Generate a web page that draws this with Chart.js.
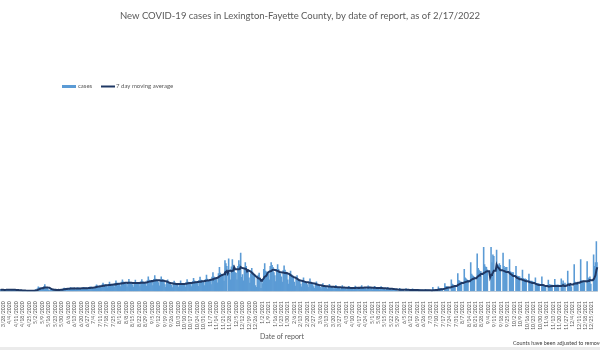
<!DOCTYPE html>
<html>
<head>
<meta charset="utf-8">
<script src="https://cdn.jsdelivr.net/npm/chart.js@4.4.1/dist/chart.umd.min.js"></script>
<style>
    body { margin: 0; background: #fff; overflow: hidden; }
    #wrap { position: relative; width: 600px; height: 350px; }
    #band { position: absolute; left: 0; top: 347px; width: 600px; height: 3px; background: #ebebeb; }
</style>
</head>
<body>
<div id="wrap">
    <canvas id="casesChart" width="600" height="347"></canvas>
    <div id="band"></div>
</div>

<script type="text/javascript">
    const chartTitle = 'New COVID-19 cases in Lexington-Fayette County, by date of report, as of 2/17/2022';
    const axisTitle = 'Date of report';
    const footNote = 'Counts have been adjusted to remove duplicates';
    const seriesNames = ['cases', '7 day moving average'];

    // first day shown, then one value per day (weeks run Sat..Fri)
    const firstDay = new Date(2020, 2, 25);
    const dailyCases = [
        14, 18, 16,
        12, 9, 14, 20, 17, 15, 18,
        13, 8, 15, 19, 16, 18, 14,
        9, 6, 11, 12, 10, 11, 9,
        4, 3, 5, 7, 6, 5, 6,
        5, 2, 6, 8, 7, 6, 7,
        18, 12, 28, 45, 38, 33, 36,
        30, 22, 48, 70, 40, 36, 34,
        14, 8, 16, 20, 15, 17, 14,
        12, 7, 14, 19, 17, 16, 18,
        18, 11, 26, 32, 28, 27, 30,
        24, 16, 33, 38, 31, 34, 32,
        26, 15, 30, 36, 35, 31, 33,
        27, 18, 34, 40, 36, 33, 35,
        31, 20, 38, 47, 44, 42, 41,
        36, 28, 55, 68, 57, 52, 54,
        50, 33, 66, 85, 72, 60, 68,
        55, 38, 72, 95, 76, 71, 69,
        64, 42, 84, 110, 88, 79, 80,
        70, 48, 96, 120, 98, 92, 92,
        74, 45, 94, 125, 95, 90, 93,
        68, 44, 92, 118, 92, 88, 93,
        76, 48, 98, 122, 100, 93, 93,
        82, 55, 112, 150, 118, 110, 108,
        94, 60, 125, 165, 128, 118, 115,
        90, 56, 118, 150, 125, 120, 111,
        70, 42, 92, 120, 95, 88, 88,
        62, 38, 80, 105, 85, 78, 77,
        60, 40, 82, 108, 82, 76, 77,
        72, 44, 90, 122, 95, 88, 84,
        78, 50, 102, 135, 108, 98, 94,
        88, 52, 115, 148, 118, 110, 104,
        92, 60, 124, 170, 126, 118, 115,
        112, 70, 148, 195, 150, 140, 130,
        140, 88, 185, 250, 190, 175, 162,
        168, 105, 320, 290, 260, 0, 340,
        190, 120, 255, 330, 270, 250, 195,
        190, 120, 260, 320, 280, 400, 145,
        175, 110, 240, 300, 260, 230, 225,
        140, 85, 185, 240, 200, 175, 165,
        60, 40, 140, 170, 190, 140, 30,
        110, 80, 230, 290, 210, 200, 200,
        180, 120, 260, 300, 270, 250, 195,
        165, 100, 230, 280, 230, 210, 185,
        150, 95, 215, 265, 220, 200, 185,
        120, 75, 170, 210, 175, 160, 140,
        95, 55, 130, 165, 130, 120, 110,
        75, 45, 110, 140, 105, 100, 90,
        70, 40, 95, 130, 92, 88, 80,
        50, 30, 75, 98, 72, 68, 62,
        42, 24, 58, 80, 56, 55, 49,
        38, 22, 52, 72, 52, 48, 45,
        34, 20, 48, 62, 46, 44, 40,
        30, 18, 42, 58, 42, 40, 36,
        28, 16, 40, 52, 38, 36, 35,
        27, 17, 38, 55, 40, 35, 33,
        30, 18, 44, 58, 42, 38, 36,
        32, 18, 42, 56, 44, 39, 35,
        28, 16, 40, 52, 38, 37, 34,
        26, 15, 36, 48, 35, 33, 31,
        20, 12, 30, 40, 28, 27, 25,
        16, 9, 22, 31, 22, 21, 19,
        0, 0, 30, 22, 19, 21, 20,
        0, 0, 28, 20, 16, 17, 17,
        0, 0, 25, 16, 15, 14, 14,
        0, 0, 20, 14, 12, 12, 12,
        0, 0, 21, 13, 12, 13, 11,
        0, 0, 0, 40, 15, 14, 15,
        0, 0, 45, 30, 27, 26, 26,
        0, 0, 80, 52, 48, 45, 41,
        0, 0, 120, 75, 68, 62, 60,
        0, 0, 185, 115, 105, 95, 95,
        0, 0, 230, 140, 130, 120, 115,
        0, 0, 300, 180, 165, 155, 145,
        0, 0, 390, 240, 220, 205, 205,
        0, 0, 460, 280, 255, 250, 225,
        0, 0, 0, 460, 300, 380, 365,
        0, 0, 430, 280, 270, 290, 270,
        0, 0, 400, 260, 240, 250, 250,
        0, 0, 330, 205, 195, 195, 195,
        0, 0, 260, 160, 150, 155, 150,
        0, 0, 220, 135, 125, 130, 125,
        0, 0, 180, 110, 100, 105, 100,
        0, 0, 140, 82, 76, 80, 77,
        0, 0, 150, 70, 60, 52, 53,
        0, 0, 118, 72, 66, 64, 65,
        0, 0, 125, 68, 62, 66, 64,
        0, 0, 130, 80, 110, 0, 86,
        0, 0, 210, 85, 80, 70, 45,
        0, 0, 280, 95, 85, 90, 80,
        0, 0, 330, 110, 100, 105, 90,
        0, 0, 310, 140, 130, 150, 75,
        0, 0, 380, 260, 300, 520, 300
    ];
    const yMax = 2000;

    const barColor = '#5B9BD5';
    const lineColor = '#1F3864';
    const textColor = '#595959';

    function dayLabels(start, count) {
        var result = [];
        var d = new Date(start);
        for (let i = 0; i < count; i++) {
            result.push((d.getMonth() + 1) + '/' + d.getDate() + '/' + d.getFullYear());
            d.setDate(d.getDate() + 1);
        }
        return result;
    }

    // trailing 7 day average of the daily counts
    function movingAverage(values, days) {
        var result = [];
        for (let i = 0; i < values.length; i++) {
            let from = Math.max(0, i - days + 1);
            let sum = 0;
            for (let j = from; j <= i; j++) sum += values[j];
            result.push(sum / (i - from + 1));
        }
        return result;
    }

    const labels = dayLabels(firstDay, dailyCases.length);
    const avgCases = movingAverage(dailyCases, 7);

    // title, legend, axis title and note, placed like the sheet layout
    const sheetText = {
        id: 'sheetText',
        afterDraw(chart) {
            const ctx = chart.ctx;
            ctx.save();
            ctx.textBaseline = 'middle';

            ctx.fillStyle = textColor;
            ctx.textAlign = 'center';
            ctx.font = '9.5px Lato';
            ctx.fillText(chartTitle, 300, 16);

            ctx.fillStyle = barColor;
            ctx.fillRect(62, 85, 14, 3);
            ctx.strokeStyle = lineColor;
            ctx.lineWidth = 2;
            ctx.beginPath();
            ctx.moveTo(101, 86.5);
            ctx.lineTo(115, 86.5);
            ctx.stroke();
            ctx.fillStyle = textColor;
            ctx.textAlign = 'left';
            ctx.font = '6px Lato';
            ctx.fillText(seriesNames[0], 78, 86.5);
            ctx.fillText(seriesNames[1], 116, 86.5);

            ctx.textAlign = 'center';
            ctx.font = '7px Lato';
            ctx.fillText(axisTitle, 282, 337);

            ctx.fillStyle = '#404040';
            ctx.textAlign = 'left';
            ctx.font = '5.4px Lato';
            ctx.fillText(footNote, 513, 343);
            ctx.restore();
        }
    };

    const casesChart = new Chart(document.getElementById('casesChart'), {
        type: 'bar',
        data: {
            labels: labels,
            datasets: [{
                type: 'line',
                label: seriesNames[1],
                data: avgCases,
                borderColor: lineColor,
                borderWidth: 2,
                pointRadius: 0,
                tension: 0,
                order: 0
            }, {
                label: seriesNames[0],
                data: dailyCases,
                backgroundColor: barColor,
                borderWidth: 0,
                barPercentage: 1,
                categoryPercentage: 1,
                order: 1
            }]
        },
        options: {
            responsive: false,
            animation: false,
            devicePixelRatio: 1,
            layout: { padding: { top: 100, bottom: 15, left: 0, right: 0 } },
            scales: {
                x: {
                    grid: { display: false },
                    border: { display: true, color: '#d9d9d9' },
                    afterBuildTicks: function (scale) {
                        scale.ticks = scale.ticks.filter(t => (t.value - 3) % 7 === 0);
                    },
                    ticks: {
                        autoSkip: false,
                        minRotation: 90,
                        maxRotation: 90,
                        padding: 2,
                        color: textColor,
                        font: { family: 'Lato', size: 5.2 }
                    }
                },
                y: {
                    display: false,
                    min: 0,
                    max: yMax
                }
            },
            plugins: {
                legend: { display: false },
                title: { display: false },
                tooltip: { enabled: false }
            }
        },
        plugins: [sheetText]
    });
</script>
</body>
</html>
